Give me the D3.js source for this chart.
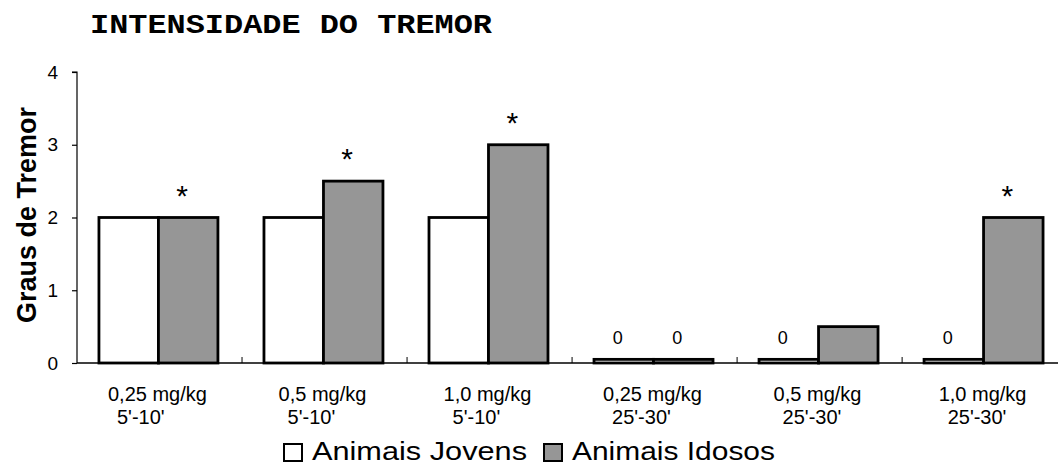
<!DOCTYPE html>
<html>
<head>
<meta charset="utf-8">
<script src="https://cdn.jsdelivr.net/npm/d3@7"></script>
<style>
  html, body { margin: 0; padding: 0; background: #fff; }
  svg { display: block; }
</style>
</head>
<body>
<svg id="chart" width="1058" height="465"></svg>
<script>
// ---- data ----
const categoriesLine1 = ["0,25 mg/kg", "0,5 mg/kg", "1,0 mg/kg", "0,25 mg/kg", "0,5 mg/kg", "1,0 mg/kg"];
const categoriesLine2 = ["5'-10'", "5'-10'", "5'-10'", "25'-30'", "25'-30'", "25'-30'"];
const seriesNames = ["Animais Jovens", "Animais Idosos"];
const jovens = [2, 2, 2, 0.05, 0.05, 0.05];
const idosos = [2, 2.5, 3, 0.05, 0.5, 2];
const jovensLabels = ["", "", "", "0", "0", "0"];
const idososLabels = ["*", "*", "*", "0", "", "*"];
const yTicks = [0, 1, 2, 3, 4];
const title = "INTENSIDADE DO TREMOR";
const yTitle = "Graus de Tremor";

// ---- layout ----
const svg = d3.select("#chart");
const colors = ["#ffffff", "#969696"];
const x0 = d3.scaleBand().domain(d3.range(categoriesLine1.length))
  .range([77, 1065]).paddingInner(0.279).paddingOuter(0.133);
const x1 = d3.scaleBand().domain([0, 1]).range([0, x0.bandwidth()]);
const y = d3.scaleLinear().domain([0, 4]).range([363, 72]);

// title
svg.append("text").attr("x", 90).attr("y", 33)
  .attr("font-family", "'Liberation Mono', 'Courier New', monospace")
  .attr("font-weight", "bold").attr("font-size", 27)
  .attr("textLength", 402).attr("lengthAdjust", "spacingAndGlyphs")
  .text(title);

// y axis
const yAxis = d3.axisLeft(y).tickValues(yTicks).tickSize(5).tickPadding(14).tickFormat(d3.format("d"));
const gy = svg.append("g").attr("transform", "translate(77,0)").call(yAxis);
gy.select(".domain").attr("stroke", "#000").attr("stroke-width", 1.2).attr("d", `M-5,${y(4)}H0V${y(0)}`);
gy.selectAll(".tick line").attr("stroke", "#000").attr("stroke-width", 1.2);
gy.selectAll(".tick text").attr("font-family", "Arial, 'Liberation Sans', sans-serif")
  .attr("font-size", 19).attr("fill", "#000");

// y title
svg.append("text")
  .attr("transform", `translate(36,215) rotate(-90)`)
  .attr("text-anchor", "middle")
  .attr("font-family", "Arial, 'Liberation Sans', sans-serif")
  .attr("font-weight", "bold").attr("font-size", 27)
  .text(yTitle);

// x axis line and category ticks
svg.append("line").attr("x1", 77).attr("x2", 1058).attr("y1", y(0)).attr("y2", y(0))
  .attr("stroke", "#000").attr("stroke-width", 1.5);
const step = x0.step();
const boundaries = d3.range(1, categoriesLine1.length + 1).map(i => x0(i - 1) - x0.paddingOuter() * step + step);
svg.selectAll("line.ctick").data(boundaries).join("line").attr("class", "ctick")
  .attr("x1", d => d).attr("x2", d => d).attr("y1", y(0)).attr("y2", y(0) - 6)
  .attr("stroke", "#000").attr("stroke-width", 1);

// bars
const series = [jovens, idosos];
const labels = [jovensLabels, idososLabels];
const groups = svg.append("g");
series.forEach((vals, s) => {
  groups.selectAll(null).data(vals).join("rect")
    .attr("x", (d, i) => x0(i) + x1(s))
    .attr("y", d => y(d))
    .attr("width", x1.bandwidth())
    .attr("height", d => y(0) - y(d))
    .attr("fill", colors[s]).attr("stroke", "#000").attr("stroke-width", 2.8);
  svg.selectAll(null).data(vals).join("text")
    .attr("x", (d, i) => x0(i) + x1(s) + x1.bandwidth() / 2 - 6)
    .attr("y", (d, i) => labels[s][i] === "*" ? y(d) - 12 : y(d) - 15)
    .attr("text-anchor", "middle")
    .attr("font-family", "Arial, 'Liberation Sans', sans-serif")
    .attr("font-size", (d, i) => labels[s][i] === "*" ? 30 : 18)
    .text((d, i) => labels[s][i]);
});

// category labels
const cat = svg.append("g").attr("font-family", "Arial, 'Liberation Sans', sans-serif").attr("font-size", 20);
categoriesLine1.forEach((c, i) => {
  const cx = x0(i) + x0.bandwidth() / 2;
  const t1 = cat.append("text").attr("x", cx - 1).attr("y", 401).attr("text-anchor", "middle").text(c);
  const w1 = t1.node().getComputedTextLength();
  const t2 = cat.append("text").attr("y", 424).text(categoriesLine2[i]);
  const w2 = t2.node().getComputedTextLength();
  // second line indented from the start of the first line (as in the original)
  const start = Math.min(cx - 1 - w1 / 2 + 9, cx - w2 / 2);
  t2.attr("x", start);
});

// legend
const leg = svg.append("g").attr("font-family", "Arial, 'Liberation Sans', sans-serif").attr("font-size", 26);
const legX = [284, 544];
const legW = [215, 203];
seriesNames.forEach((n, s) => {
  leg.append("rect").attr("x", legX[s]).attr("y", 444).attr("width", 18).attr("height", 17)
    .attr("fill", colors[s]).attr("stroke", "#000").attr("stroke-width", 2);
  leg.append("text").attr("x", legX[s] + 28).attr("y", 459.5)
    .attr("textLength", legW[s]).attr("lengthAdjust", "spacingAndGlyphs").text(n);
});
</script>
</body>
</html>
